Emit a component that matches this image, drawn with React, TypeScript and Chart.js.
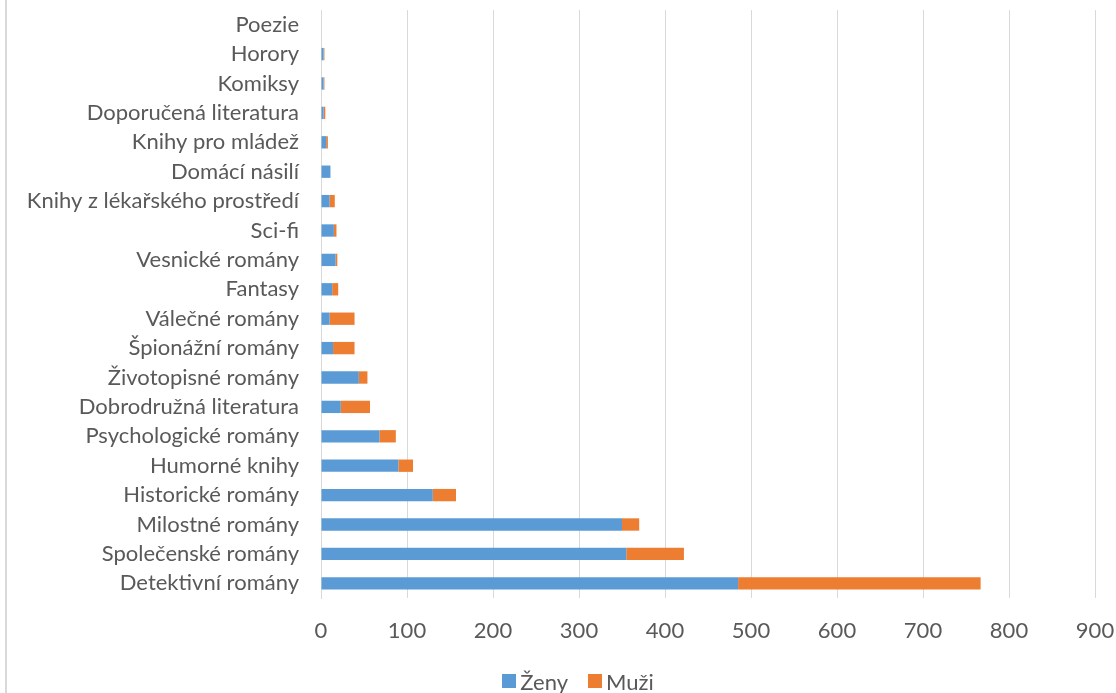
import React, { useEffect, useRef } from "react";
import { Chart, registerables } from "chart.js";

Chart.register(...registerables);

const categories = [
  "Poezie",
  "Horory",
  "Komiksy",
  "Doporučená literatura",
  "Knihy pro mládež",
  "Domácí násilí",
  "Knihy z lékařského prostředí",
  "Sci-fi",
  "Vesnické romány",
  "Fantasy",
  "Válečné romány",
  "Špionážní romány",
  "Životopisné romány",
  "Dobrodružná literatura",
  "Psychologické romány",
  "Humorné knihy",
  "Historické romány",
  "Milostné romány",
  "Společenské romány",
  "Detektivní romány",
];

const zeny = [0, 3, 3, 3, 6, 11, 10, 15, 17, 13, 10, 14, 44, 23, 68, 90, 130, 350, 355, 485];
const muzi = [0, 1, 1, 2, 2, 0, 6, 3, 2, 7, 29, 25, 10, 34, 19, 17, 27, 20, 67, 282];

const xTicks = [0, 100, 200, 300, 400, 500, 600, 700, 800, 900];

const seriesNames = ["Ženy", "Muži"];
const seriesColors = ["#5b9bd5", "#ed7d31"];

const FONT = "Lato, 'Open Sans', sans-serif";
const TEXT = "#595959";
const FS = 22;

export default function App() {
  const ref = useRef<HTMLCanvasElement | null>(null);

  useEffect(() => {
    document.body.style.margin = "0";
    const ctx = ref.current!.getContext("2d")!;
    const chart = new Chart(ctx, {
      type: "bar",
      data: {
        labels: categories,
        datasets: [
          { label: seriesNames[0], data: zeny, backgroundColor: seriesColors[0], barPercentage: 0.42, categoryPercentage: 1 },
          { label: seriesNames[1], data: muzi, backgroundColor: seriesColors[1], barPercentage: 0.42, categoryPercentage: 1 },
        ],
      },
      options: {
        indexAxis: "y",
        animation: false,
        responsive: false,
        maintainAspectRatio: false,
        layout: { padding: { top: 10, right: 21, bottom: 0, left: 0 } },
        plugins: {
          tooltip: { enabled: false },
          legend: { display: false },
        },
        scales: {
          x: {
            stacked: true,
            min: 0,
            max: 900,
            afterBuildTicks: (scale: any) => {
              scale.ticks = xTicks.map((v) => ({ value: v }));
            },
            afterFit: (scale: any) => {
              scale.height = 95;
              scale.paddingLeft = 0;
              scale.paddingRight = 0;
            },
            grid: { color: "#d9d9d9", lineWidth: 1, drawTicks: false },
            border: { display: false },
            ticks: { color: TEXT, font: { family: FONT, size: FS }, padding: 20, maxRotation: 0 },
          },
          y: {
            stacked: true,
            afterFit: (scale: any) => {
              scale.width = 321;
              scale.paddingTop = 0;
              scale.paddingBottom = 0;
            },
            grid: { display: false, drawTicks: false },
            border: { display: true, color: "#d9d9d9", width: 1 },
            ticks: { color: TEXT, font: { family: FONT, size: FS }, padding: 22, autoSkip: false },
          },
        },
      },
    });
    return () => chart.destroy();
  }, []);

  return (
    <div style={{ position: "relative", width: 1116, height: 693, background: "#fff", overflow: "hidden" }}>
      <div style={{ position: "absolute", left: 5, top: 0, width: 2, height: 693, background: "#d9d9d9" }} />
      <canvas ref={ref} width={1116} height={693} style={{ display: "block" }} />
      <div
        style={{
          position: "absolute",
          left: 0,
          width: 1116,
          top: 667,
          height: 28,
          display: "flex",
          justifyContent: "center",
          alignItems: "center",
          fontFamily: FONT,
          fontSize: FS,
          color: TEXT,
          gap: 20,
          paddingLeft: 40,
          boxSizing: "border-box",
        }}
      >
        {seriesNames.map((n, i) => (
          <div key={n} style={{ display: "flex", alignItems: "center", gap: 4 }}>
            <span style={{ display: "inline-block", width: 14, height: 14, background: seriesColors[i] }} />
            <span>{n}</span>
          </div>
        ))}
      </div>
    </div>
  );
}
